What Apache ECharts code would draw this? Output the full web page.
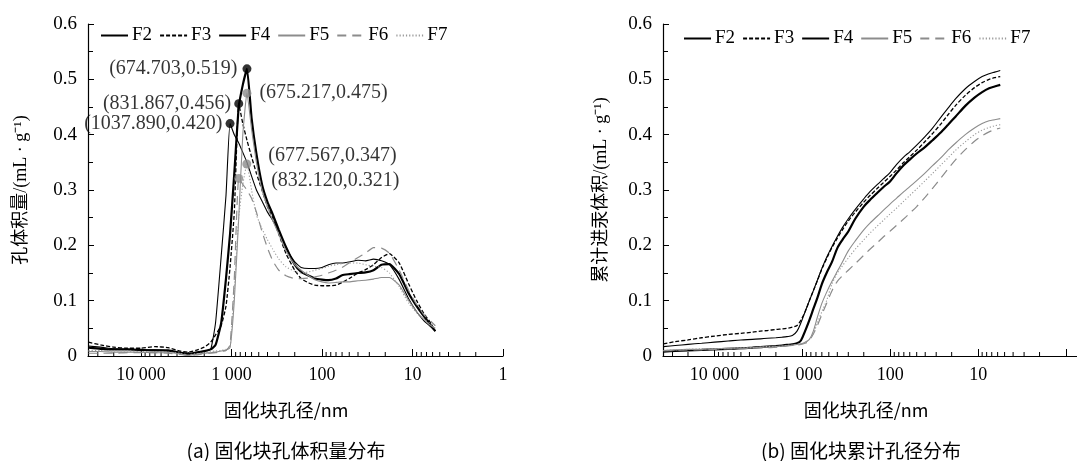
<!DOCTYPE html>
<html>
<head>
<meta charset="utf-8">
<script src="https://cdn.jsdelivr.net/npm/echarts@6/dist/echarts.min.js"></script>
<style>
  html, body { margin: 0; padding: 0; background: #fff; }
  #view { width: 1077px; height: 461px; }
</style>
</head>
<body>
<div id="view"></div>
<script>
// pore diameter (nm), shared by every curve
const diam = [38000, 28000, 20000, 14000, 10000, 7000, 5000, 3700, 3000, 2500,
  2000, 1700, 1500, 1300, 1150, 1037.89, 931, 831.867, 750, 674.703,
  600, 530, 460, 400, 350, 300, 250, 200, 170, 140,
  120, 100, 85, 70, 60, 50, 40, 33, 27, 22,
  18, 14, 11, 9, 7.5, 6.5, 5.6];

// (a) pore volume distribution
const f2Vol = [0.015, 0.013, 0.012, 0.012, 0.011, 0.010, 0.010, 0.006, 0.004, 0.006,
  0.009, 0.012, 0.020, 0.060, 0.140, 0.220, 0.330, 0.450, 0.490, 0.519,
  0.430, 0.365, 0.310, 0.278, 0.256, 0.228, 0.197, 0.165, 0.152, 0.145,
  0.140, 0.138, 0.137, 0.140, 0.146, 0.148, 0.150, 0.151, 0.155, 0.165,
  0.166, 0.148, 0.113, 0.090, 0.072, 0.059, 0.045];
const f3Vol = [0.025, 0.020, 0.016, 0.014, 0.014, 0.017, 0.015, 0.009, 0.007, 0.010,
  0.016, 0.025, 0.038, 0.055, 0.090, 0.160, 0.260, 0.456, 0.420, 0.390,
  0.360, 0.330, 0.300, 0.270, 0.250, 0.220, 0.185, 0.155, 0.140, 0.132,
  0.128, 0.127, 0.127, 0.128, 0.133, 0.140, 0.150, 0.156, 0.165, 0.178,
  0.185, 0.168, 0.130, 0.100, 0.077, 0.063, 0.045];
const f4Vol = [0.018, 0.016, 0.013, 0.012, 0.011, 0.011, 0.009, 0.006, 0.003, 0.005,
  0.008, 0.012, 0.060, 0.180, 0.290, 0.420, 0.400, 0.385, 0.368, 0.350,
  0.325, 0.300, 0.280, 0.260, 0.245, 0.225, 0.195, 0.170, 0.160, 0.158,
  0.158, 0.160, 0.165, 0.168, 0.168, 0.170, 0.173, 0.172, 0.175, 0.172,
  0.165, 0.138, 0.103, 0.080, 0.064, 0.055, 0.045];
const f5Vol = [0.008, 0.008, 0.007, 0.007, 0.007, 0.006, 0.006, 0.004, 0.001, 0.003,
  0.005, 0.006, 0.007, 0.009, 0.011, 0.015, 0.100, 0.250, 0.400, 0.475,
  0.410, 0.350, 0.300, 0.270, 0.245, 0.220, 0.190, 0.165, 0.155, 0.145,
  0.138, 0.134, 0.132, 0.133, 0.134, 0.134, 0.136, 0.137, 0.139, 0.142,
  0.142, 0.128, 0.100, 0.080, 0.066, 0.057, 0.050];
const f6Vol = [0.005, 0.005, 0.005, 0.006, 0.006, 0.006, 0.005, 0.003, 0.001, 0.002,
  0.004, 0.005, 0.006, 0.008, 0.010, 0.020, 0.140, 0.321, 0.310, 0.300,
  0.285, 0.260, 0.225, 0.195, 0.172, 0.155, 0.145, 0.140, 0.140, 0.141,
  0.143, 0.146, 0.150, 0.155, 0.160, 0.168, 0.178, 0.186, 0.196, 0.195,
  0.186, 0.155, 0.118, 0.093, 0.075, 0.065, 0.055];
const f7Vol = [0.010, 0.010, 0.009, 0.009, 0.008, 0.008, 0.007, 0.005, 0.002, 0.004,
  0.006, 0.008, 0.009, 0.010, 0.012, 0.015, 0.120, 0.250, 0.310, 0.347,
  0.300, 0.255, 0.230, 0.210, 0.193, 0.175, 0.161, 0.153, 0.150, 0.152,
  0.155, 0.158, 0.162, 0.165, 0.167, 0.168, 0.168, 0.165, 0.162, 0.160,
  0.150, 0.125, 0.095, 0.078, 0.066, 0.060, 0.055];

// (b) cumulative intrusion volume
const f2Cum = [0.008, 0.009, 0.010, 0.011, 0.012, 0.013, 0.014, 0.015, 0.016, 0.017,
  0.018, 0.019, 0.020, 0.021, 0.023, 0.028, 0.045, 0.065, 0.085, 0.105,
  0.130, 0.150, 0.170, 0.195, 0.210, 0.225, 0.248, 0.270, 0.282, 0.295,
  0.305, 0.316, 0.330, 0.345, 0.355, 0.366, 0.378, 0.390, 0.403, 0.418,
  0.433, 0.452, 0.467, 0.477, 0.484, 0.487, 0.490];
const f3Cum = [0.022, 0.026, 0.029, 0.033, 0.036, 0.039, 0.041, 0.043, 0.045, 0.046,
  0.048, 0.049, 0.050, 0.052, 0.055, 0.065, 0.080, 0.100, 0.118, 0.136,
  0.157, 0.176, 0.196, 0.213, 0.228, 0.244, 0.260, 0.278, 0.290, 0.303,
  0.313, 0.325, 0.336, 0.350, 0.360, 0.372, 0.388, 0.402, 0.418, 0.436,
  0.453, 0.471, 0.485, 0.494, 0.500, 0.503, 0.505];
const f4Cum = [0.017, 0.019, 0.021, 0.023, 0.025, 0.027, 0.029, 0.030, 0.031, 0.032,
  0.033, 0.034, 0.035, 0.037, 0.045, 0.060, 0.080, 0.100, 0.118, 0.137,
  0.158, 0.178, 0.198, 0.216, 0.232, 0.248, 0.265, 0.284, 0.297, 0.310,
  0.320, 0.332, 0.346, 0.360, 0.369, 0.381, 0.397, 0.412, 0.430, 0.448,
  0.465, 0.483, 0.496, 0.505, 0.510, 0.513, 0.516];
const f5Cum = [0.010, 0.011, 0.012, 0.012, 0.013, 0.014, 0.014, 0.015, 0.016, 0.016,
  0.017, 0.018, 0.019, 0.020, 0.021, 0.022, 0.025, 0.030, 0.045, 0.070,
  0.095, 0.115, 0.135, 0.153, 0.170, 0.190, 0.208, 0.228, 0.240, 0.253,
  0.263, 0.275, 0.285, 0.297, 0.306, 0.317, 0.331, 0.344, 0.357, 0.372,
  0.385, 0.400, 0.412, 0.420, 0.425, 0.427, 0.429];
const f6Cum = [0.009, 0.010, 0.011, 0.011, 0.012, 0.013, 0.013, 0.014, 0.015, 0.015,
  0.016, 0.017, 0.018, 0.019, 0.020, 0.021, 0.023, 0.028, 0.040, 0.055,
  0.075, 0.095, 0.118, 0.135, 0.145, 0.155, 0.167, 0.182, 0.193, 0.205,
  0.215, 0.226, 0.236, 0.248, 0.258, 0.270, 0.287, 0.303, 0.320, 0.338,
  0.355, 0.373, 0.388, 0.398, 0.405, 0.409, 0.412];
const f7Cum = [0.010, 0.011, 0.012, 0.013, 0.013, 0.014, 0.015, 0.015, 0.016, 0.017,
  0.017, 0.018, 0.019, 0.020, 0.021, 0.022, 0.024, 0.030, 0.040, 0.060,
  0.080, 0.100, 0.130, 0.150, 0.163, 0.177, 0.193, 0.210, 0.222, 0.235,
  0.245, 0.257, 0.267, 0.280, 0.290, 0.302, 0.317, 0.330, 0.344, 0.358,
  0.372, 0.387, 0.400, 0.408, 0.413, 0.416, 0.418];

// labelled peaks in (a)
const peakSeries = ["F2", "F3", "F4", "F5", "F7", "F6"];
const peakD = [674.703, 831.867, 1037.890, 675.217, 677.567, 832.120];
const peakV = [0.519, 0.456, 0.420, 0.475, 0.347, 0.321];

const names = ["F2", "F3", "F4", "F5", "F6", "F7"];
const volList = [f2Vol, f3Vol, f4Vol, f5Vol, f6Vol, f7Vol];
const cumList = [f2Cum, f3Cum, f4Cum, f5Cum, f6Cum, f7Cum];

const serif = "Liberation Serif, Noto Sans CJK SC, serif";
const cjk = "Noto Sans CJK SC, sans-serif";

const lineStyles = {
  F2: { color: "#000", width: 2.2, type: "solid" },
  F3: { color: "#000", width: 1.3, type: [4, 2] },
  F4: { color: "#000", width: 1.1, type: "solid" },
  F5: { color: "#8c8c8c", width: 1.1, type: "solid" },
  F6: { color: "#8c8c8c", width: 1.2, type: [9, 6] },
  F7: { color: "#9a9a9a", width: 1.1, type: [1.2, 2] },
};

// minor ticks of the log axis: 2..9 times each decade
const minorTicks = [];
[1, 10, 100, 1000, 10000].forEach((p) => {
  [2, 3, 4, 5, 6, 7, 8, 9].forEach((k) => {
    if (k * p < 38500) minorTicks.push(k * p);
  });
});

function fmtDiam(v, showOne) {
  let e = Math.round(Math.log10(v));
  if (Math.abs(Math.log10(v) - e) > 1e-6) return "";
  if (e === 0 && !showOne) return "";
  return String(Math.pow(10, e)).replace(/\B(?=(\d{3})+(?!\d))/g, " ");
}

function xAxisOf(grid) {
  return {
    gridIndex: grid,
    type: "log",
    logBase: 10,
    inverse: true,
    min: grid === 0 ? 1 : 0.75,
    max: 38500,
    axisLine: { show: true, lineStyle: { color: "#000", width: 1.2 } },
    axisTick: { show: true, inside: true, length: 7, lineStyle: { color: "#000" } },
    minorTick: { show: false },
    splitLine: { show: false },
    axisLabel: {
      color: "#000",
      fontFamily: serif,
      fontSize: 18,
      margin: 10,
      formatter: (v) => fmtDiam(v, grid === 0),
      showMinLabel: grid === 0,
      showMaxLabel: false,
    },
  };
}

function yAxisOf(grid, name, gap) {
  return {
    gridIndex: grid,
    type: "value",
    min: 0,
    max: 0.6,
    interval: 0.1,
    name: name,
    nameLocation: "middle",
    nameGap: gap,
    nameTextStyle: { color: "#000", fontFamily: serif, fontSize: 18 },
    axisLine: { show: true, lineStyle: { color: "#000", width: 1.2 } },
    axisTick: { show: true, inside: true, length: 6, lineStyle: { color: "#000" } },
    minorTick: { show: true, splitNumber: 2, length: 5, lineStyle: { color: "#000" } },
    splitLine: { show: false },
    axisLabel: { color: "#000", fontFamily: serif, fontSize: 19, margin: 11 },
  };
}

let seriesList = [];
names.forEach((n, k) => {
  let c = lineStyles[n].color;
  seriesList.push({
    name: n, type: "line", xAxisIndex: 0, yAxisIndex: 0, color: c,
    symbol: "none", smooth: 0.15, lineStyle: lineStyles[n],
    data: diam.map((d, i) => [d, volList[k][i]]),
  });
  seriesList.push({
    name: n, type: "line", xAxisIndex: 1, yAxisIndex: 1, color: c,
    symbol: "none", smooth: 0.3, lineStyle: lineStyles[n],
    data: diam.map((d, i) => [d, cumList[k][i]]),
  });
});

// peak markers with their coordinate labels
const labelPlace = [
  { position: "left", distance: 5, offset: [0, 0] },
  { position: "left", distance: 3, offset: [0, 0] },
  { position: "left", distance: 3, offset: [0, 0] },
  { position: "right", distance: 8, offset: [0, 0] },
  { position: "right", distance: 17, offset: [0, -8] },
  { position: "right", distance: 28, offset: [0, 2] },
];
seriesList.push({
  type: "scatter", xAxisIndex: 0, yAxisIndex: 0, symbolSize: 9, z: 5,
  data: peakD.map((d, i) => ({
    value: [d, peakV[i]],
    itemStyle: { color: ["F2", "F3", "F4"].includes(peakSeries[i]) ? "#000" : "#8c8c8c" },
    label: labelPlace[i],
  })),
  label: {
    show: true, color: "#000", fontFamily: serif, fontSize: 20,
    formatter: (p) => "(" + p.value[0].toFixed(3) + "," + p.value[1].toFixed(3) + ")",
  },
});

[0, 1].forEach((g) => {
  seriesList.push({
    type: "custom", xAxisIndex: g, yAxisIndex: g, silent: true, z: 3,
    data: minorTicks.map((v) => [v, 0]),
    renderItem: (params, api) => {
      let p = api.coord([api.value(0), 0]);
      return {
        type: "line",
        shape: { x1: p[0], y1: p[1], x2: p[0], y2: p[1] - 4 },
        style: { stroke: "#000", lineWidth: 1 },
      };
    },
  });
});

const legendBase = {
  data: names,
  orient: "horizontal",
  padding: 0,
  itemWidth: 27,
  itemHeight: 14,
  itemGap: 7,
  itemStyle: { opacity: 0 },
  textStyle: { color: "#000", fontFamily: serif, fontSize: 19, padding: [0, 0, 0, -1] },
};

let option = {
  backgroundColor: "#fff",
  animation: false,
  legend: [
    Object.assign({ left: 100, top: 26 }, legendBase),
    Object.assign({ left: 683, top: 29 }, legendBase),
  ],
  grid: [
    { left: 88, top: 24, width: 415, height: 332 },
    { left: 663, top: 24, width: 415, height: 332 },
  ],
  xAxis: [xAxisOf(0), xAxisOf(1)],
  yAxis: [
    yAxisOf(0, "孔体积量/(mL · g⁻¹)", 58),
    yAxisOf(1, "累计进汞体积/(mL · g⁻¹)", 53),
  ],
  graphic: [
    { type: "text", x: 286, y: 410, style: { text: "固化块孔径/nm", fill: "#000", font: "18px " + cjk, align: "center", verticalAlign: "middle" } },
    { type: "text", x: 866, y: 410, style: { text: "固化块孔径/nm", fill: "#000", font: "18px " + cjk, align: "center", verticalAlign: "middle" } },
    { type: "text", x: 286, y: 451, style: { text: "(a) 固化块孔体积量分布", fill: "#000", font: "19px " + cjk, align: "center", verticalAlign: "middle" } },
    { type: "text", x: 861, y: 451, style: { text: "(b) 固化块累计孔径分布", fill: "#000", font: "19px " + cjk, align: "center", verticalAlign: "middle" } },
  ],
  series: seriesList,
};

let myChart = echarts.init(document.getElementById("view"));
myChart.setOption(option);
</script>
</body>
</html>
